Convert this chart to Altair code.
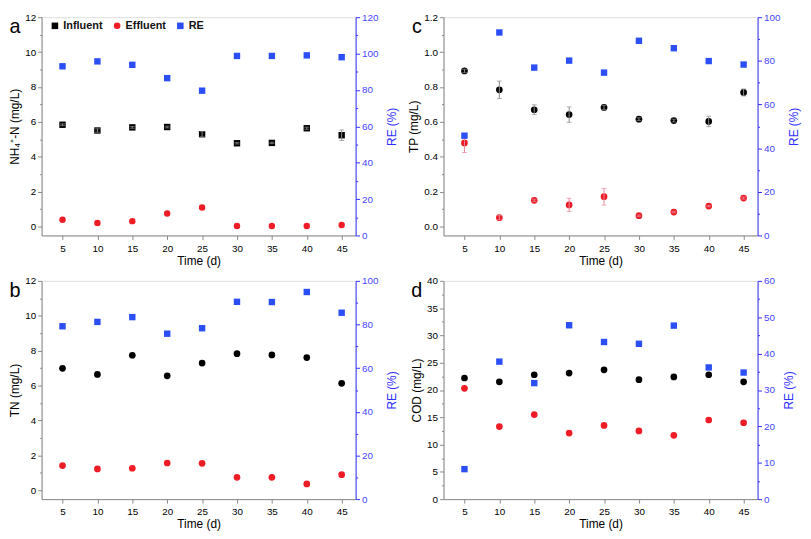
import altair as alt
import pandas as pd

days = [5, 10, 15, 20, 25, 30, 35, 40, 45]

# Panel a: NH4+-N
a_influent = [5.84, 5.51, 5.69, 5.71, 5.30, 4.78, 4.80, 5.64, 5.24]
a_influent_err = [0.05, 0.10, 0.05, 0.05, 0.15, 0.04, 0.04, 0.06, 0.30]
a_effluent = [0.40, 0.21, 0.32, 0.76, 1.10, 0.04, 0.04, 0.04, 0.10]
a_effluent_err = [0.0, 0.0, 0.0, 0.0, 0.0, 0.0, 0.0, 0.0, 0.0]
a_re = [93.0, 95.7, 93.8, 86.5, 79.6, 98.7, 98.7, 99.0, 98.0]

# Panel b: TN
b_influent = [6.99, 6.64, 7.74, 6.56, 7.29, 7.83, 7.76, 7.61, 6.13]
b_influent_err = [0.0, 0.0, 0.0, 0.0, 0.0, 0.0, 0.0, 0.0, 0.0]
b_effluent = [1.42, 1.23, 1.27, 1.57, 1.55, 0.75, 0.75, 0.37, 0.90]
b_effluent_err = [0.0, 0.0, 0.0, 0.0, 0.0, 0.0, 0.0, 0.0, 0.0]
b_re = [79.2, 81.2, 83.4, 75.8, 78.3, 90.4, 90.3, 94.9, 85.4]

# Panel c: TP
c_influent = [0.892, 0.784, 0.670, 0.642, 0.683, 0.616, 0.608, 0.603, 0.769]
c_influent_err = [0.01, 0.05, 0.028, 0.044, 0.012, 0.008, 0.008, 0.03, 0.02]
c_effluent = [0.480, 0.052, 0.151, 0.125, 0.172, 0.063, 0.084, 0.118, 0.164]
c_effluent_err = [0.055, 0.012, 0.006, 0.038, 0.048, 0.004, 0.004, 0.004, 0.006]
c_re = [45.7, 93.0, 76.9, 80.1, 74.6, 89.2, 85.8, 79.9, 78.3]

# Panel d: COD
d_influent = [22.2, 21.5, 22.8, 23.1, 23.7, 21.9, 22.4, 22.8, 21.5]
d_influent_err = [0.0, 0.0, 0.0, 0.0, 0.0, 0.0, 0.0, 0.0, 0.0]
d_effluent = [20.3, 13.3, 15.5, 12.1, 13.5, 12.5, 11.7, 14.5, 14.0]
d_effluent_err = [0.0, 0.0, 0.0, 0.0, 0.0, 0.0, 0.0, 0.0, 0.0]
d_re = [8.25, 37.8, 31.9, 47.8, 43.2, 42.7, 47.7, 36.2, 34.8]

series_names = ["Influent", "Effluent", "RE"]

RED = "#ee1c25"
BLUE = "#2b4ff5"
AXBLUE = "#3030ff"
LABBLUE = "#4646ff"
FONT = "Liberation Sans"

W, H = 318, 221


def major_test(step):
    return f"abs(datum.value / {step} - round(datum.value / {step})) < 0.001"


def tick_values(lo, hi, minor):
    n = int(round((hi - lo) / minor))
    return [round(lo + i * minor, 6) for i in range(n + 1)]


def y_axis(orient, title, lo, hi, major, minor, fmt, right):
    test = major_test(major)
    kw = dict(
        orient=orient, title=title, values=tick_values(lo, hi, minor), format=fmt,
        labelExpr=f"({test}) ? datum.label : ''",
        tickSize={"condition": {"test": test, "value": 4}, "value": 2},
        grid=False, titleFontWeight="normal", titleFont=FONT, titleFontSize=12,
    )
    if right:
        kw.update(domainColor=AXBLUE, tickColor=AXBLUE, labelColor=LABBLUE,
                  titleColor=AXBLUE, labelPadding=2, titlePadding=9, titleAngle=270,
                  titleBaseline="top")
    else:
        kw.update(labelPadding=2, titlePadding=3)
    return alt.Axis(**kw)


def panel(letter, ytitle, ldom, lstart, lmajor, lminor, lfmt, rdom, rmajor, rminor,
          inf, inf_err, eff, eff_err, re, show_legend):
    n = len(days)
    left_df = pd.DataFrame({
        "day": days + days,
        "value": inf + eff,
        "err": inf_err + eff_err,
        "series": [series_names[0]] * n + [series_names[1]] * n,
    })
    right_df = pd.DataFrame({"day": days, "value": re, "series": [series_names[2]] * n})

    xenc = alt.X("day:Q", scale=alt.Scale(domain=[2, 47], nice=False, zero=False),
                 axis=alt.Axis(values=days, title="Time (d)", tickSize=4, labelPadding=4,
                               titlePadding=2, format="d", grid=False,
                               titleFontWeight="normal", titleFont=FONT, titleFontSize=12))
    lscale = alt.Scale(domain=ldom, nice=False, zero=False)
    rscale = alt.Scale(domain=rdom, nice=False, zero=False)
    laxis = y_axis("left", ytitle, lstart, ldom[1], lmajor, lminor, lfmt, False)
    raxis = y_axis("right", "RE (%)", rdom[0], rdom[1], rmajor, rminor, "d", True)

    errcolor = alt.condition("datum.series == 'Influent'", alt.value("#8c8c8c"), alt.value("#e8859a"))
    errbase = (alt.Chart(left_df)
               .transform_filter("datum.err > 0")
               .transform_calculate(lo="datum.value - datum.err", hi="datum.value + datum.err"))
    rule = errbase.mark_rule(strokeWidth=1).encode(
        x=xenc, y=alt.Y("lo:Q", scale=lscale, axis=laxis), y2="hi:Q", color=errcolor)
    caps = (errbase.transform_fold(["lo", "hi"], as_=["end", "endval"])
            .mark_tick(orient="horizontal", size=5, thickness=1)
            .encode(x=xenc, y=alt.Y("endval:Q", scale=lscale, axis=laxis), color=errcolor))

    if show_legend:
        cscale = alt.Scale(domain=series_names, range=["black", RED, BLUE])
        sscale = alt.Scale(domain=series_names, range=["square", "circle", "square"])
        leg = alt.Legend(orient="none", legendX=8, legendY=3, direction="horizontal", title=None,
                         labelFontSize=11, labelFontWeight="bold", labelFont=FONT, labelColor="#111",
                         symbolSize=44, symbolStrokeWidth=0, labelOffset=3, columnPadding=9,
                         padding=0)
        lpts = alt.Chart(left_df).mark_point(filled=True, size=42, opacity=1).encode(
            x=xenc, y=alt.Y("value:Q", scale=lscale, axis=laxis),
            color=alt.Color("series:N", scale=cscale, legend=leg),
            shape=alt.Shape("series:N", scale=sscale, legend=leg))
        rpts = alt.Chart(right_df).mark_point(filled=True, size=42, opacity=1).encode(
            x=xenc, y=alt.Y("value:Q", scale=rscale, axis=raxis),
            color=alt.Color("series:N", scale=cscale, legend=leg),
            shape=alt.Shape("series:N", scale=sscale, legend=leg))
    else:
        lpts = alt.Chart(left_df).mark_point(filled=True, size=46, opacity=1, shape="circle").encode(
            x=xenc, y=alt.Y("value:Q", scale=lscale, axis=laxis),
            color=alt.condition("datum.series == 'Influent'", alt.value("black"), alt.value(RED)))
        rpts = alt.Chart(right_df).mark_point(filled=True, size=42, opacity=1, shape="square",
                                              color=BLUE).encode(
            x=xenc, y=alt.Y("value:Q", scale=rscale, axis=raxis))

    label = alt.Chart(pd.DataFrame({"t": [letter]})).mark_text(
        fontSize=20, font=FONT, align="center", baseline="middle", color="black"
    ).encode(x=alt.value(-27), y=alt.value(10), text="t:N")

    left = alt.layer(lpts, rule, caps)
    return (alt.layer(left, rpts, label)
            .resolve_scale(y="independent")
            .properties(width=W, height=H))


pa = panel("a", "NH\u2084\u207a-N (mg/L)", [-0.5, 12], 0, 2, 1, "d", [0, 120], 20, 10,
           a_influent, a_influent_err, a_effluent, a_effluent_err, a_re, True)
pc = panel("c", "TP (mg/L)", [-0.05, 1.2], 0, 0.2, 0.1, ".1f", [0, 100], 20, 10,
           c_influent, c_influent_err, c_effluent, c_effluent_err, c_re, False)
pb = panel("b", "TN (mg/L)", [-0.5, 12], 0, 2, 1, "d", [0, 100], 20, 10,
           b_influent, b_influent_err, b_effluent, b_effluent_err, b_re, False)
pd_ = panel("d", "COD (mg/L)", [0, 40], 0, 5, 2.5, "d", [0, 60], 10, 5,
            d_influent, d_influent_err, d_effluent, d_effluent_err, d_re, False)

chart = (alt.concat(pa, pc, pb, pd_, columns=2, spacing={"row": 46, "column": 89}, bounds="flush")
         .properties(padding={"left": 0, "top": 0, "right": 2, "bottom": 0})
         .configure_view(stroke="black", strokeWidth=1.5)
         .configure_axis(labelFont=FONT, titleFont=FONT, labelFontSize=10, titleFontSize=12,
                         titleFontWeight="normal", domainWidth=1.5, tickWidth=1.2,
                         domainColor="black", tickColor="black", labelColor="#222",
                         titleColor="black", grid=False)
         .configure(background="white"))

chart.save("out.html", embed_options={"renderer": "svg", "actions": False})
